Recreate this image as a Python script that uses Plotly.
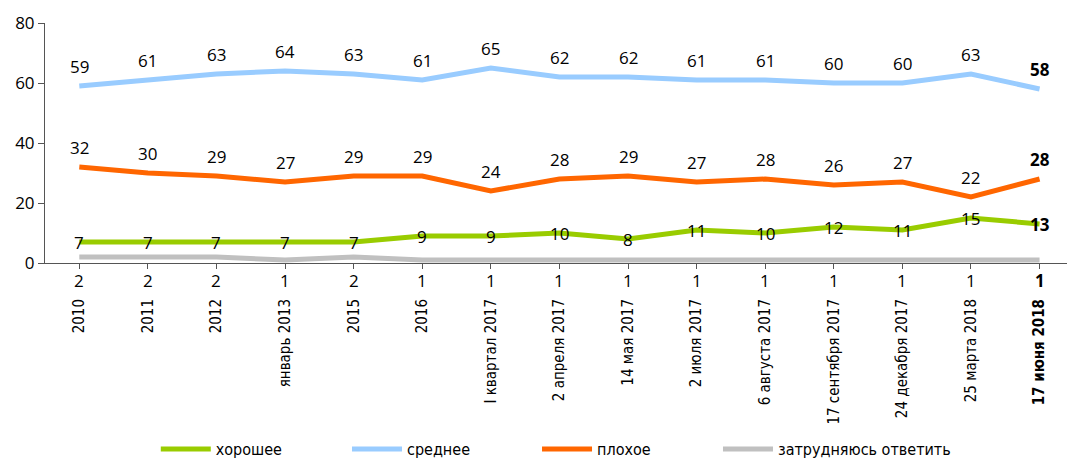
import plotly.graph_objects as go

periods = ["2010", "2011", "2012", "январь 2013", "2015", "2016", "I квартал 2017",
           "2 апреля 2017", "14 мая 2017", "2 июля 2017", "6 августа 2017",
           "17 сентября 2017", "24 декабря 2017", "25 марта 2018", "17 июня 2018"]
good = [7, 7, 7, 7, 7, 9, 9, 10, 8, 11, 10, 12, 11, 15, 13]
average = [59, 61, 63, 64, 63, 61, 65, 62, 62, 61, 61, 60, 60, 63, 58]
bad = [32, 30, 29, 27, 29, 29, 24, 28, 29, 27, 28, 26, 27, 22, 28]
unsure = [2, 2, 2, 1, 2, 1, 1, 1, 1, 1, 1, 1, 1, 1, 1]
y_ticks = [0, 20, 40, 60, 80]

# name, values, colour, label offset (px), legend id, legend x (container)
series = [
    ("хорошее", good, "#99cc00", 0, "legend", 0.1460),
    ("среднее", average, "#99ccff", 20, "legend2", 0.3252),
    ("плохое", bad, "#ff6600", 20, "legend3", 0.5033),
    ("затрудняюсь ответить", unsure, "#c0c0c0", None, "legend4", 0.6729),
]

NUM_FONT = "Open Sans"
COND_FONT = "DejaVu Sans Condensed, DejaVu Sans, sans-serif"

fig = go.Figure()
xs = list(range(len(periods)))
for name, vals, color, _, leg, _ in series:
    fig.add_trace(go.Scatter(x=xs, y=vals, mode="lines", name=name, legend=leg,
                             line=dict(color=color, width=5), cliponaxis=False))

last = len(periods) - 1
for name, vals, color, shift, _, _ in series:
    for i, v in enumerate(vals):
        txt = f"<b>{v}</b>" if i == last else str(v)
        ann = dict(x=i, y=v, text=txt, showarrow=False, yshift=shift,
                   font=dict(family=NUM_FONT, size=17, color="#000000"))
        if shift is None:
            # small shares are printed just under the axis line
            ann["y"] = 0
            ann["yshift"] = -17
        fig.add_annotation(**ann)

tick_text = [p if i != last else f"<b>{p}</b>" for i, p in enumerate(periods)]

legend_style = dict(orientation="h", xref="container", yref="container",
                    y=0.0218, yanchor="middle", xanchor="left",
                    font=dict(family=COND_FONT, size=16, color="#000000"),
                    itemwidth=50, bgcolor="rgba(0,0,0,0)")
layout_legends = {}
for _, _, _, _, leg, lx in series:
    layout_legends[leg] = dict(legend_style, x=lx)

fig.update_layout(
    width=1067, height=459,
    margin=dict(l=45, r=0, t=23, b=196, autoexpand=False),
    paper_bgcolor="white", plot_bgcolor="white",
    showlegend=True,
    **layout_legends,
    xaxis=dict(tickmode="array", tickvals=xs, ticktext=tick_text,
               range=[-0.5, 14.4], tickangle=-90, tickson="boundaries",
               ticks="outside", ticklen=5, tickcolor="#555555",
               showline=True, linecolor="#555555", linewidth=1,
               showgrid=False, zeroline=False, ticklabelstandoff=24,
               automargin=False,
               tickfont=dict(family=COND_FONT, size=15, color="#000000")),
    yaxis=dict(range=[0, 80], tickvals=y_ticks, ticks="outside", ticklen=6,
               tickcolor="#555555", showline=True, linecolor="#555555",
               linewidth=1, showgrid=False, zeroline=False, automargin=False,
               tickfont=dict(family=NUM_FONT, size=17, color="#000000")),
)

fig.write_html("out.html")
